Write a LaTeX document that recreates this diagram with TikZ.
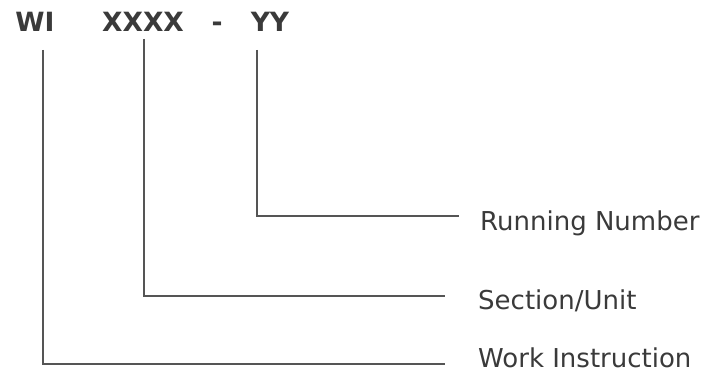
\documentclass[tikz,border=0pt]{standalone}
\usepackage{fontspec}
\setmainfont{DejaVu Sans}
\definecolor{ink}{HTML}{3A3A3A}
\definecolor{wire}{HTML}{555555}
\begin{document}
\begin{tikzpicture}[x=1pt,y=-1pt,
  code/.style={font=\fontsize{26.5}{26.5}\selectfont\bfseries, text=ink, inner sep=0pt, anchor=base},
  lbl/.style={font=\fontsize{26}{26}\selectfont, text=ink, inner sep=0pt, anchor=base west},
  wirestyle/.style={draw=wire, line width=1.6pt}]
\useasboundingbox (0,0) rectangle (707,374);
% code text
\node[code] (wi) at (35,32) {WI};
\node[code] (xx) at (143,32) {XXXX};
\node[code] (dash) at (217,32) {-};
\node[code] (yy) at (270,32) {YY};
% labels
\node[lbl] (run) at (480,231) {Running Number};
\node[lbl] (sec) at (478,309) {Section/Unit};
\node[lbl] (work) at (478,367) {Work Instruction};
% connector end points
\coordinate (wiTop) at (43,50);
\coordinate (xxTop) at (144,39);
\coordinate (yyTop) at (257,50);
\coordinate (runEnd) at (459,216);
\coordinate (secEnd) at (445,296);
\coordinate (workEnd) at (445,364);
\draw[wirestyle] (yyTop) |- (runEnd);
\draw[wirestyle] (xxTop) |- (secEnd);
\draw[wirestyle] (wiTop) |- (workEnd);
\end{tikzpicture}
\end{document}
